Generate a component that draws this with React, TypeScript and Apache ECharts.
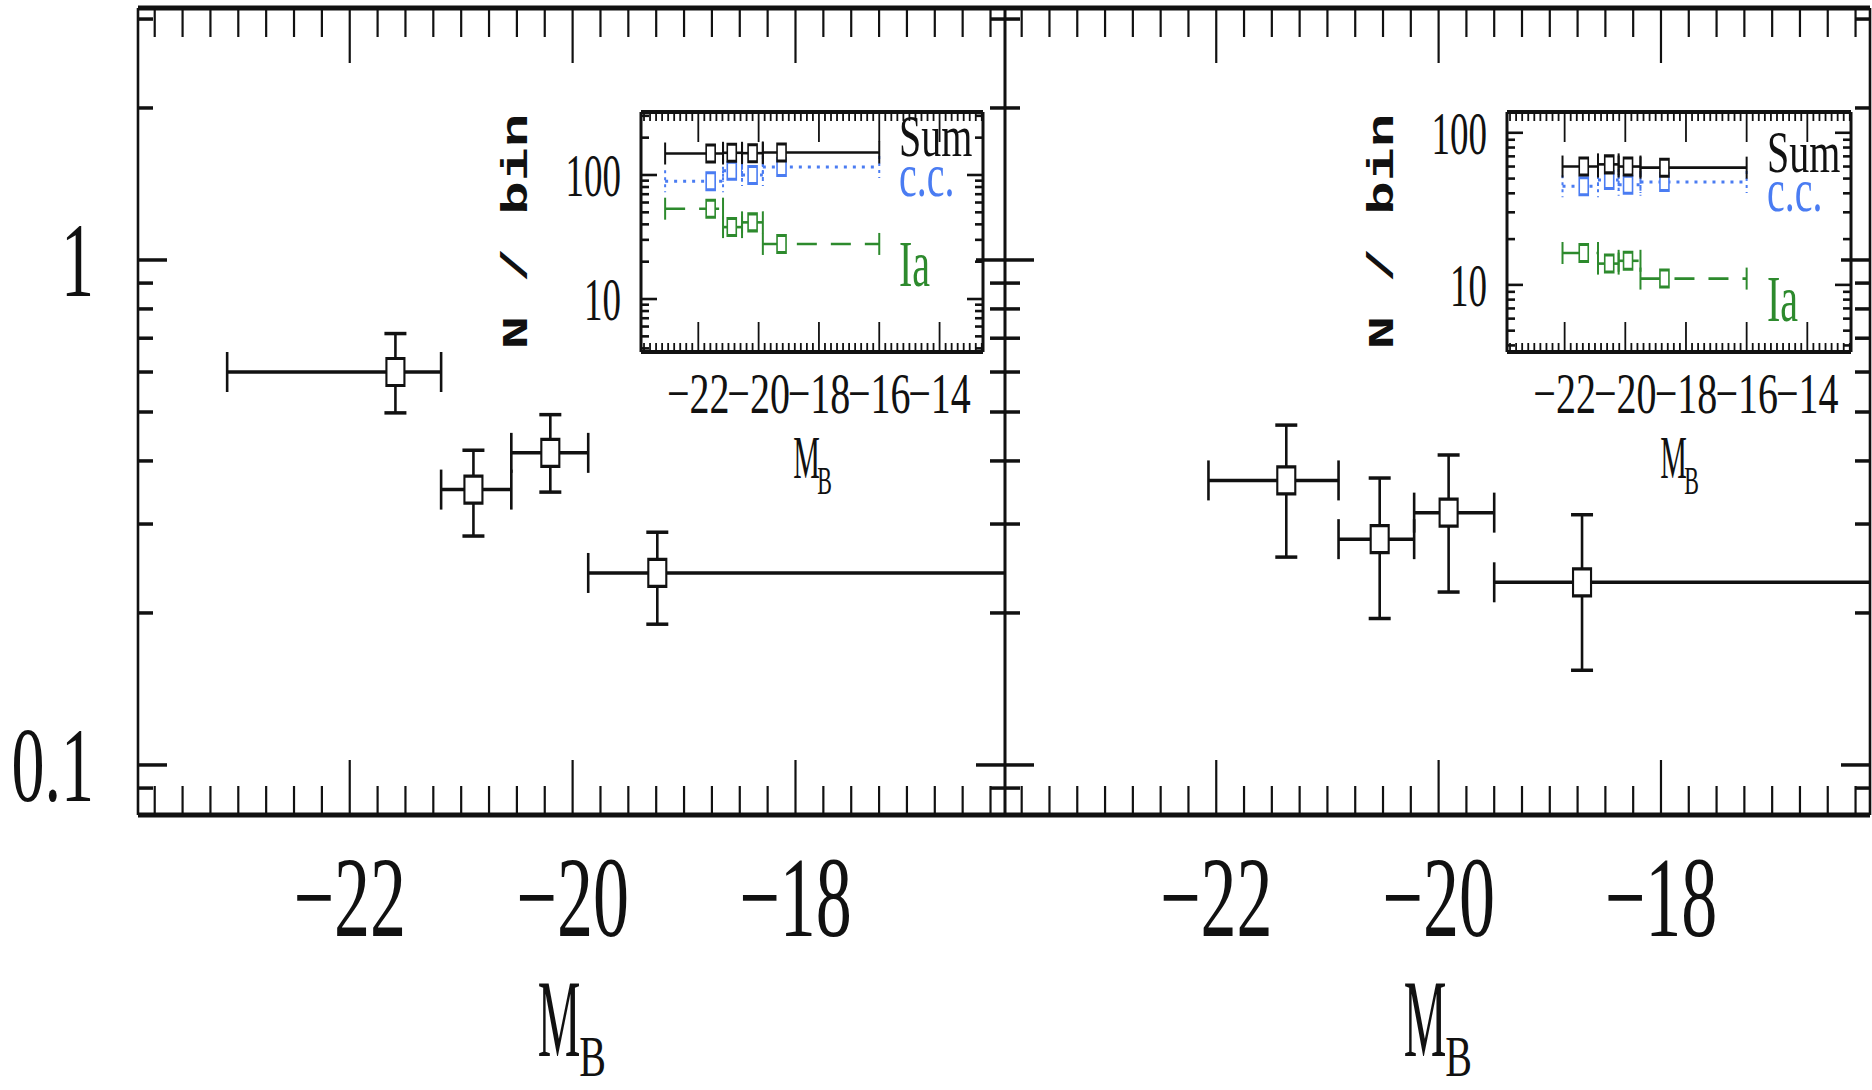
import React, { useEffect, useRef } from "react";
import * as echarts from "echarts";

const MINUS = "\u2212";

// ---------------- data ----------------
// Main panels: ratio N(Ia) / N(c.c.) in bins of M_B
const leftBinCentre = [-21.59, -20.89, -20.2, -19.24];
const leftBinLo = [-23.1, -21.18, -20.55, -19.86];
const leftBinHi = [-21.18, -20.55, -19.86, -16.0];
const leftRatio = [0.6, 0.351, 0.415, 0.24];
const leftRatioLo = [0.498, 0.284, 0.347, 0.19];
const leftRatioHi = [0.715, 0.42, 0.494, 0.289];

const rightBinCentre = [-21.37, -20.53, -19.91, -18.71];
const rightBinLo = [-22.07, -20.9, -20.22, -19.5];
const rightBinHi = [-20.9, -20.22, -19.5, -16.0];
const rightRatio = [0.366, 0.28, 0.316, 0.23];
const rightRatioLo = [0.258, 0.195, 0.22, 0.154];
const rightRatioHi = [0.471, 0.37, 0.411, 0.313];

// Insets: N / bin
const leftSum = [149, 151, 150, 152];
const leftCC = [89, 108, 100, 116];
const leftIa = [53.5, 38, 41.5, 27.8];
const rightSum = [60, 62, 60, 59];
const rightCC = [44.5, 49, 45.5, 47.5];
const rightIa = [16.2, 13.8, 14.4, 11.0];

// tick values / labels
const mainXLabels = [-22, -20, -18];
const mainYLabels = [0.1, 1];
const mainYMinor = [0.09, 0.2, 0.3, 0.4, 0.5, 0.6, 0.7, 0.8, 0.9, 2, 3];
const insetXLabels = [-22, -20, -18, -16, -14];
const insetYLabels = [10, 100];
const insetYMinor = [4, 5, 6, 7, 8, 9, 20, 30, 40, 50, 60, 70, 80, 90, 200, 300];

// axis ranges
const mainX = [-23.9, -16.12];
const mainY = [0.0796, 3.155];
const insetX = [-23.9, -12.56];
const leftInsetY = [3.74, 322];
const rightInsetY = [3.62, 137];

const BLACK = "#111111";
const BLUE = "#4a7cf2";
const GREEN = "#2d8a2d";

const GRIDS = [
  { left: 138, top: 8, width: 867, height: 807 },
  { left: 1005, top: 8, width: 865, height: 807 },
  { left: 641, top: 112, width: 342, height: 240 },
  { left: 1507, top: 112, width: 344, height: 240 },
];
const X_RANGES = [mainX, mainX, insetX, insetX];
const Y_RANGES = [mainY, mainY, leftInsetY, rightInsetY];

function stepTicks(from: number, to: number, step: number, skip: number[]) {
  const out: number[] = [];
  for (let i = 0; from + i * step <= to + 1e-9; i++) {
    const v = +(from + i * step).toFixed(4);
    if (!skip.some((s) => Math.abs(s - v) < 1e-6)) out.push(v);
  }
  return out;
}

const mainXMinor = stepTicks(-23.75, -16.25, 0.25, mainXLabels);
const insetXMinor = stepTicks(-23.8, -12.6, 0.2, insetXLabels);

function frameRenderer(c: any) {
  return (params: any, api: any) => {
    const cs = params.coordSys;
    const L = cs.x, T = cs.y, R = cs.x + cs.width, B = cs.y + cs.height;
    const kids: any[] = [];
    const ln = (x1: number, y1: number, x2: number, y2: number, w: number) =>
      kids.push({ type: "line", silent: true, shape: { x1, y1, x2, y2 }, style: { stroke: BLACK, lineWidth: w } });
    const inX = (v: number) => v > c.xr[0] && v < c.xr[1];
    const inY = (v: number) => v > c.yr[0] && v < c.yr[1];
    const xt = (v: number, len: number) => {
      const x = api.coord([v, c.yr[0]])[0];
      ln(x, B, x, B - len, c.vTick);
      ln(x, T, x, T + len, c.vTick);
    };
    const yt = (v: number, len: number) => {
      const y = api.coord([c.xr[0], v])[1];
      ln(L, y, L + len, y, c.hTick);
      ln(R, y, R - len, y, c.hTick);
    };
    c.xMajor.filter(inX).forEach((v: number) => xt(v, c.xMajorLen));
    c.xMinor.filter(inX).forEach((v: number) => xt(v, c.xMinorLen));
    c.yMajor.filter(inY).forEach((v: number) => yt(v, c.yMajorLen));
    c.yMinor.filter(inY).forEach((v: number) => yt(v, c.yMinorLen));
    ln(L, T, R, T, c.hFrame);
    ln(L, B, R, B, c.hFrame);
    ln(L, T, L, B, c.vFrame);
    ln(R, T, R, B, c.vFrame);
    return { type: "group", children: kids };
  };
}

function errorRenderer(st: any) {
  return (params: any, api: any) => {
    const x = api.value(0), y = api.value(1);
    const xlo = api.value(2), xhi = api.value(3), ylo = api.value(4), yhi = api.value(5);
    const a = api.coord([xlo, y]);
    const b = api.coord([xhi, y]);
    const kids: any[] = [];
    const seg = (x1: number, y1: number, x2: number, y2: number, w: number, dash?: number[]) =>
      kids.push({
        type: "line",
        shape: { x1, y1, x2, y2 },
        style: { stroke: st.color, lineWidth: w, lineDash: dash, fill: "none" },
      });
    seg(a[0], a[1], b[0], b[1], st.hw, st.dash);
    seg(a[0], a[1] - st.capH / 2, a[0], a[1] + st.capH / 2, st.vw, st.capDash);
    seg(b[0], b[1] - st.capH / 2, b[0], b[1] + st.capH / 2, st.vw, st.capDash);
    if (st.yErr) {
      const c = api.coord([x, ylo]);
      const d = api.coord([x, yhi]);
      seg(c[0], c[1], d[0], d[1], st.vw);
      seg(c[0] - st.capW / 2, c[1], c[0] + st.capW / 2, c[1], st.hw);
      seg(d[0] - st.capW / 2, d[1], d[0] + st.capW / 2, d[1], st.hw);
    }
    return { type: "group", children: kids };
  };
}

function rows(xc: number[], y: number[], xlo: number[], xhi: number[], ylo?: number[], yhi?: number[]) {
  return xc.map((x, i) => [x, y[i], xlo[i], xhi[i], ylo ? ylo[i] : y[i], yhi ? yhi[i] : y[i]]);
}

function buildOption() {
  const grid = GRIDS.map((g, i) => ({
    ...g,
    show: i >= 2,
    backgroundColor: "#ffffff",
    borderWidth: 0,
    outerBoundsMode: "none",
    containLabel: false,
  }));
  const xAxis = X_RANGES.map((r, i) => ({ type: "value", gridIndex: i, min: r[0], max: r[1], show: false }));
  const yAxis = Y_RANGES.map((r, i) => ({ type: "log", logBase: 10, gridIndex: i, min: r[0], max: r[1], show: false }));

  const series: any[] = [];
  const mainFrame = {
    xr: mainX, yr: mainY,
    xMajor: mainXLabels, xMinor: mainXMinor, yMajor: mainYLabels, yMinor: mainYMinor,
    xMajorLen: 55, xMinorLen: 29, yMajorLen: 29, yMinorLen: 15,
    vTick: 2.2, hTick: 3.5, hFrame: 5, vFrame: 2.6,
  };
  [0, 1].forEach((g) => {
    series.push({
      type: "custom", name: "frame" + g, xAxisIndex: g, yAxisIndex: g, z: 6, silent: true,
      renderItem: frameRenderer(mainFrame), data: [[mainX[0], 1]], encode: { x: 0, y: 1 },
    });
  });
  const mainErr = { color: BLACK, hw: 3.5, vw: 2.6, capH: 40, capW: 22, yErr: true };
  const mainSets = [
    rows(leftBinCentre, leftRatio, leftBinLo, leftBinHi, leftRatioLo, leftRatioHi),
    rows(rightBinCentre, rightRatio, rightBinLo, rightBinHi, rightRatioLo, rightRatioHi),
  ];
  mainSets.forEach((d, g) => {
    series.push({
      type: "custom", name: "ratio err " + g, xAxisIndex: g, yAxisIndex: g, z: 3, clip: true, silent: true,
      renderItem: errorRenderer(mainErr), data: d, encode: { x: 0, y: 1 },
    });
    series.push({
      type: "scatter", name: "ratio " + g, xAxisIndex: g, yAxisIndex: g, z: 4, silent: true,
      symbol: "rect", symbolSize: [18, 27],
      itemStyle: { color: "#ffffff", borderColor: BLACK, borderWidth: 2.6, opacity: 1 },
      data: d.map((r) => [r[0], r[1]]),
    });
  });

  const insetSets = [
    { g: 2, yr: leftInsetY, bc: leftBinCentre, lo: leftBinLo, hi: leftBinHi, sum: leftSum, cc: leftCC, ia: leftIa },
    { g: 3, yr: rightInsetY, bc: rightBinCentre, lo: rightBinLo, hi: rightBinHi, sum: rightSum, cc: rightCC, ia: rightIa },
  ];
  insetSets.forEach((s) => {
    series.push({
      type: "custom", name: "frame" + s.g, xAxisIndex: s.g, yAxisIndex: s.g, z: 6, silent: true,
      renderItem: frameRenderer({
        xr: insetX, yr: s.yr,
        xMajor: insetXLabels, xMinor: insetXMinor, yMajor: insetYLabels, yMinor: insetYMinor,
        xMajorLen: 30, xMinorLen: 9, yMajorLen: 16, yMinorLen: 8,
        vTick: 1.8, hTick: 2.6, hFrame: 4, vFrame: 3,
      }),
      data: [[insetX[0], s.yr[0]]], encode: { x: 0, y: 1 },
    });
    const lines = [
      { name: "Ia", vals: s.ia, color: GREEN, dash: [20, 14], capDash: undefined, hw: 2.6 },
      { name: "c.c.", vals: s.cc, color: BLUE, dash: [3, 6], capDash: [3, 4], hw: 3 },
      { name: "Sum", vals: s.sum, color: BLACK, dash: undefined, capDash: undefined, hw: 2.6 },
    ];
    lines.forEach((l) => {
      const d = rows(s.bc, l.vals, s.lo, s.hi);
      series.push({
        type: "custom", name: l.name + " err " + s.g, xAxisIndex: s.g, yAxisIndex: s.g, z: 3, silent: true,
        renderItem: errorRenderer({ color: l.color, hw: l.hw, vw: 2, capH: 22, dash: l.dash, capDash: l.capDash, yErr: false }),
        data: d, encode: { x: 0, y: 1 },
      });
      series.push({
        type: "scatter", name: l.name + " " + s.g, xAxisIndex: s.g, yAxisIndex: s.g, z: 4, silent: true,
        symbol: "rect", symbolSize: [9, 17],
        itemStyle: { color: "#ffffff", borderColor: l.color, borderWidth: 2.2, opacity: 1 },
        data: d.map((r) => [r[0], r[1]]),
      });
    });
  });

  return { animation: false, backgroundColor: "#ffffff", grid, xAxis, yAxis, series };
}

function fmt(v: number) {
  return v < 0 ? MINUS + String(Math.abs(v)) : String(v);
}

function txt(text: string, x: number, y: number, o: any) {
  const align = o.align || "center";
  return {
    type: "text", x, y, silent: true, z: 20,
    scaleX: o.sx ?? 1, scaleY: o.sy ?? 1, rotation: o.rot ?? 0,
    style: {
      text, fill: o.color || BLACK,
      fontSize: o.size, fontFamily: o.family || "Liberation Serif", fontWeight: o.weight || "normal",
      align, verticalAlign: "middle", textAlign: align, textVerticalAlign: "middle",
    },
  };
}

function buildGraphics(chart: any) {
  const toPx = (g: number, x: number, y: number) => chart.convertToPixel({ gridIndex: g }, [x, y]) as number[];
  const els: any[] = [];
  // main panels
  [0, 1].forEach((g) => {
    const G = GRIDS[g];
    const bottom = G.top + G.height;
    mainXLabels.forEach((v) => {
      const p = toPx(g, v, mainY[0]);
      els.push(txt(fmt(v), p[0], bottom + 82, { size: 72, sy: 1.6 }));
    });
    const cx = G.left + G.width / 2;
    els.push(txt("M", cx - 12.5, 1018, { size: 48, sy: 2.3 }));
    els.push(txt("B", cx + 21, 1057, { size: 40, sy: 1.42 }));
  });
  mainYLabels.forEach((v) => {
    const p = toPx(0, mainX[0], v);
    els.push(txt(fmt(v), GRIDS[0].left - 44, p[1], { size: 66, sy: 1.62, align: "right" }));
  });
  // insets
  const insets = [
    { g: 2, yr: leftInsetY, sum: leftSum, cc: leftCC, ia: leftIa },
    { g: 3, yr: rightInsetY, sum: rightSum, cc: rightCC, ia: rightIa },
  ];
  insets.forEach((s) => {
    const G = GRIDS[s.g];
    const bottom = G.top + G.height;
    insetXLabels.forEach((v) => {
      const p = toPx(s.g, v, s.yr[0]);
      els.push(txt(fmt(v), p[0], bottom + 42, { size: 40, sy: 1.44 }));
    });
    insetYLabels.forEach((v) => {
      const p = toPx(s.g, insetX[0], v);
      els.push(txt(fmt(v), G.left - 20, p[1], { size: 37, sy: 1.68, align: "right" }));
    });
    const cx = G.left + G.width / 2;
    els.push(txt("M", cx - 5.5, 457.5, { size: 30, sy: 2.05 }));
    els.push(txt("B", cx + 12.5, 480, { size: 22, sy: 1.8 }));
    els.push(
      txt("N / bin", G.left - 124, 231.5, {
        size: 36, sx: 1.56, rot: Math.PI / 2, family: "Liberation Mono", weight: "bold",
      })
    );
    const lx = G.left + G.width - 84;
    const last = (a: number[]) => a[a.length - 1];
    const py = (v: number) => toPx(s.g, insetX[0], v)[1];
    els.push(txt("Sum", lx, py(last(s.sum)) - 16, { size: 40, sy: 1.48, align: "left", color: BLACK }));
    els.push(txt("c.c.", lx, py(last(s.cc)) + 8, { size: 40, sy: 1.55, align: "left", color: BLUE }));
    els.push(txt("Ia", lx, py(last(s.ia)) + 20, { size: 40, sy: 1.65, align: "left", color: GREEN }));
  });
  return els;
}

export default function App() {
  const ref = useRef<HTMLDivElement>(null);
  useEffect(() => {
    const el = ref.current;
    if (!el) return;
    const chart = echarts.init(el, null, { renderer: "svg" });
    chart.setOption(buildOption() as any);
    chart.setOption({ graphic: buildGraphics(chart) } as any);
    return () => chart.dispose();
  }, []);
  return (
    <div
      ref={ref}
      style={{ position: "absolute", left: 0, top: 0, width: 1872, height: 1090, background: "#ffffff" }}
    />
  );
}
